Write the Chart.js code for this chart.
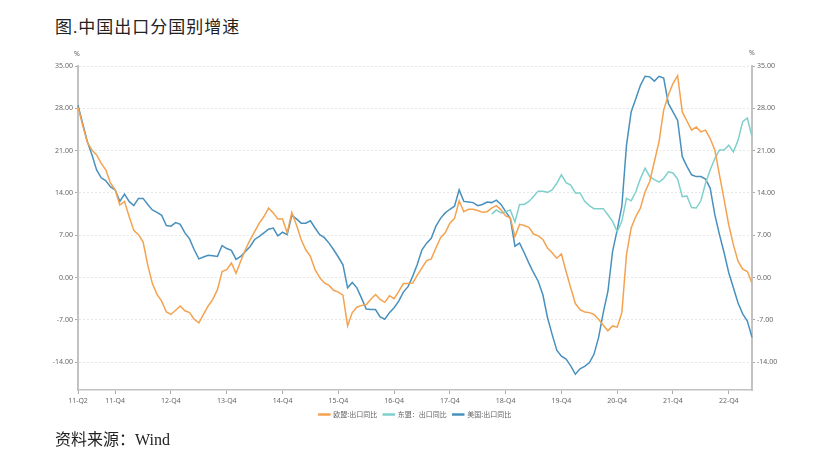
<!DOCTYPE html>
<html>
<head>
<meta charset="utf-8">
<script src="https://cdn.jsdelivr.net/npm/chart.js@4"></script>
<style>
body { margin: 0; background: #fff; width: 830px; height: 457px; overflow: hidden; position: relative; }
canvas { position: absolute; left: 0; top: 0; }
.note { position: absolute; left: 55px; font-family: "Liberation Serif", "Noto Sans CJK SC", serif; color: #222; white-space: nowrap; }
#title { top: 13px; font-size: 17px; letter-spacing: 1px; }
#source { top: 426px; font-size: 16px; }
</style>
</head>
<body>
<div id="title" class="note">图.中国出口分国别增速</div>
<canvas id="exportCanv" width="830" height="457"></canvas>
<div id="source" class="note">资料来源：Wind</div>
<script>
// monthly y/y export growth, 2011-04 .. 2023-05 (%)
const euExport = [
  28.2, 25.2, 22.4, 21.1, 20.3, 18.9, 17.8, 15.6, 14.5, 12.0, 12.6, 10.1, 7.8, 7.1, 5.9, 2.1, -1.0, -2.8, -3.9, -5.7,
  -6.1, -5.4, -4.7, -5.5, -5.8, -6.9, -7.5, -6.1, -4.7, -3.6, -2.0, 1.0, 1.3, 2.4, 0.7, 2.7, 4.6, 6.2,
  7.6, 9.0, 10.1, 11.5, 10.7, 9.7, 9.7, 7.4, 10.8, 8.7, 6.3, 4.6, 3.5, 1.3, 0.0, -0.9, -1.3, -2.1, -2.4, -2.9,
  -8.0, -5.8, -4.9, -4.6, -4.5, -3.6, -2.8, -3.6, -4.1, -3.0, -3.5, -2.3, -1.0, -1.0, -0.9, 0.4,
  1.6, 2.8, 3.1, 4.9, 6.6, 7.4, 9.0, 9.8, 12.7, 10.9, 11.3, 11.3, 11.1, 10.8, 10.9, 11.5, 11.9, 11.2, 10.2, 9.9,
  6.8, 8.8, 8.6, 8.3, 7.2, 6.9, 6.3, 4.9, 4.1, 3.2, 3.9, 1.0, -1.7, -4.3, -5.3, -5.7, -5.8,
  -6.1, -6.9, -7.9, -8.8, -8.0, -8.2, -5.8, 3.8, 8.2, 10.1, 11.5, 14.2, 15.9, 19.2, 22.5, 27.7, 30.2, 32.1, 33.4, 27.4,
  25.9, 24.4, 24.9, 24.1, 24.4, 23.0, 21.1, 17.0, 12.9, 8.7, 5.4, 2.7, 1.4, 1.0, -0.9
];
const usExport = [
  28.5, 25.5, 22.5, 20.3, 17.8, 16.5, 16.0, 15.0, 14.5, 12.6, 13.8, 12.6, 11.9, 13.1, 13.1, 12.1, 11.2, 10.8, 10.3, 8.6,
  8.5, 9.1, 8.8, 7.4, 6.4, 4.6, 3.1, 3.4, 3.7, 3.6, 3.5, 5.3, 4.8, 4.5, 3.0, 3.5, 4.3, 5.1,
  6.3, 6.8, 7.4, 8.0, 8.2, 6.9, 7.5, 7.1, 10.3, 9.7, 9.0, 9.0, 9.4, 8.2, 7.1, 6.6, 5.7, 4.6, 3.4, 2.1,
  -1.7, -0.8, -1.7, -3.4, -5.2, -5.3, -5.3, -6.5, -6.9, -5.8, -5.0, -3.9, -2.4, -1.5, 0.2, 2.2,
  4.6, 5.7, 6.5, 8.5, 9.8, 10.7, 11.3, 11.8, 14.5, 12.6, 12.5, 12.4, 11.9, 12.1, 12.5, 12.4, 12.8, 12.1, 10.9, 9.8,
  5.2, 5.7, 4.1, 2.4, 0.8, -0.6, -2.8, -6.6, -9.4, -12.0, -13.0, -13.5, -14.6, -16.0, -15.1, -14.7, -14.1,
  -12.7, -9.9, -5.8, -2.3, 4.3, 7.9, 11.8, 21.9, 27.4, 29.6, 31.8, 33.3, 33.2, 32.5, 33.3, 33.0, 28.8, 27.4, 26.0, 20.0,
  18.4, 17.0, 16.7, 16.7, 16.3, 14.8, 10.4, 7.1, 4.1, 0.8, -1.7, -4.2, -6.0, -7.2, -9.9
];
// ASEAN series only starts in 2018-09
const aseanStart = 89;
const aseanValues = [
  10.5, 11.2, 10.7, 10.9, 11.2, 9.2, 12.1, 12.1, 12.6, 13.4, 14.3, 14.3, 14.1, 14.5, 15.6, 17.0, 15.7, 15.3, 14.0, 14.0,
  12.6, 11.9,
  11.4, 11.4, 11.4, 10.4, 9.3, 7.6, 9.3, 13.1, 12.7, 14.2, 16.4, 18.1, 16.7, 16.2, 15.8, 16.4, 17.5, 17.3, 16.3, 13.4,
  13.5, 11.6, 11.5, 12.7, 15.6, 17.8, 19.7, 21.1, 21.1, 21.9, 20.8, 22.7, 25.8, 26.4, 23.3
];
const aseanExport = new Array(aseanStart).fill(null).concat(aseanValues);

const months = [];
for (let y = 2011, m = 4; months.length < euExport.length; m++) {
  if (m > 12) { m = 1; y++; }
  months.push(y + '-' + String(m).padStart(2, '0'));
}

// x tick positions (month index) and their labels
const tickIndex = [0, 8, 20, 32, 44, 56, 68, 80, 92, 104, 116, 128, 140];
const tickText = ['11-Q2', '11-Q4', '12-Q4', '13-Q4', '14-Q4', '15-Q4', '16-Q4', '17-Q4', '18-Q4', '19-Q4', '20-Q4', '21-Q4', '22-Q4'];
const yTicks = [-14, -7, 0, 7, 14, 21, 28, 35];

const smallFont = { size: 7, family: '"Noto Sans", "Noto Sans CJK SC", sans-serif' };

const pctLabel = {
  id: 'pctLabel',
  afterDraw(chart) {
    const ctx = chart.ctx, area = chart.chartArea;
    ctx.save();
    ctx.font = '7px "Noto Sans", sans-serif';
    ctx.fillStyle = '#666';
    ctx.textAlign = 'center';
    ctx.fillText('%', area.left - 1, area.top - 12);
    ctx.fillText('%', area.right, area.top - 13);
    ctx.restore();
  }
};

function yAxis(pos) {
  return {
    position: pos,
    min: -18.6,
    max: 35,
    afterBuildTicks: s => { s.ticks = yTicks.map(v => ({ value: v })); },
    afterFit: s => { s.width = 78; },
    grid: { drawOnChartArea: pos === 'left', color: '#e6e6e6', tickColor: '#aaa', tickLength: 3 },
    border: { color: '#c2c2c2', width: 2, dash: [2, 2] },
    ticks: { font: smallFont, color: '#666', padding: 2, callback: v => v.toFixed(2) }
  };
}

const exportCanv = document.getElementById('exportCanv');
const exportChart = new Chart(exportCanv, {
  type: 'line',
  data: {
    labels: months,
    datasets: [{
      label: '欧盟:出口同比',
      data: euExport,
      borderColor: '#f5a24f',
      backgroundColor: '#f5a24f'
    }, {
      label: '东盟：出口同比',
      data: aseanExport,
      borderColor: '#7fd0cc',
      backgroundColor: '#7fd0cc'
    }, {
      label: '美国:出口同比',
      data: usExport,
      borderColor: '#4890bd',
      backgroundColor: '#4890bd'
    }]
  },
  options: {
    responsive: false,
    animation: false,
    layout: { padding: { top: 66, bottom: 29, left: 0, right: 0 } },
    elements: {
      line: { borderWidth: 1.5, tension: 0 },
      point: { radius: 0 }
    },
    scales: {
      x: {
        afterBuildTicks: s => { s.ticks = tickIndex.map(v => ({ value: v })); },
        afterFit: s => { s.height = 15; },
        grid: { drawOnChartArea: false, tickLength: 4, tickColor: '#aaa' },
        border: { color: '#c2c2c2', width: 1.5 },
        ticks: {
          autoSkip: false, maxRotation: 0, font: smallFont, color: '#666', padding: 3,
          callback: v => tickText[tickIndex.indexOf(v)]
        }
      },
      y: yAxis('left'),
      y2: yAxis('right')
    },
    plugins: {
      legend: {
        position: 'bottom',
        labels: { boxWidth: 11, boxHeight: 1, padding: 6, color: '#666', font: smallFont }
      },
      tooltip: { enabled: false }
    }
  },
  plugins: [pctLabel]
});
</script>
</body>
</html>
